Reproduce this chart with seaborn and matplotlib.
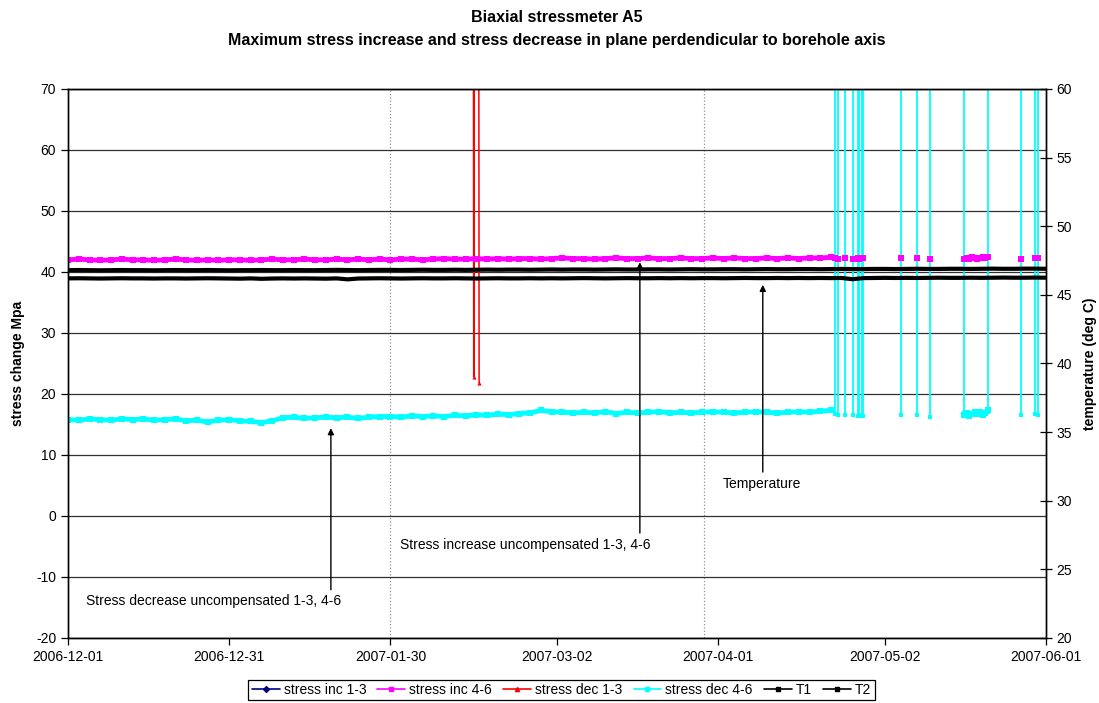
import matplotlib
matplotlib.use('Agg')
import matplotlib.pyplot as plt
import matplotlib.dates as mdates
from matplotlib.lines import Line2D
import seaborn as sns
import pandas as pd

# continuous record, one reading every second day from 2006-12-01 (MPa)
inc_46 = [42.0, 42.1, 42.0, 41.9, 42.0, 42.1, 42.0, 42.0, 41.9, 42.0,
          42.1, 42.0, 41.9, 42.0, 41.9, 42.0, 42.0, 41.9, 42.0, 42.1,
          42.0, 42.0, 42.1, 42.0, 42.0, 42.1, 42.0, 42.1, 42.0, 42.1,
          42.0, 42.1, 42.1, 42.0, 42.1, 42.2, 42.1, 42.1, 42.2, 42.1,
          42.2, 42.1, 42.2, 42.2, 42.1, 42.2, 42.3, 42.2, 42.2, 42.1,
          42.2, 42.3, 42.2, 42.2, 42.3, 42.2, 42.2, 42.3, 42.2, 42.2,
          42.3, 42.2, 42.3, 42.2, 42.2, 42.3, 42.2, 42.3, 42.2, 42.3,
          42.3, 42.4]
dec_46 = [15.8, 15.7, 15.9, 15.8, 15.7, 15.9, 15.8, 15.9, 15.7, 15.8,
          15.9, 15.6, 15.7, 15.4, 15.7, 15.8, 15.6, 15.5, 15.3, 15.6,
          16.1, 16.2, 16.0, 16.1, 16.2, 16.1, 16.2, 16.0, 16.2, 16.3,
          16.3, 16.2, 16.4, 16.3, 16.4, 16.3, 16.5, 16.4, 16.6, 16.5,
          16.7, 16.6, 16.8, 16.9, 17.3, 17.1, 17.0, 16.9, 17.0, 16.9,
          17.1, 16.8, 17.0, 16.9, 17.0, 17.1, 16.9, 17.0, 16.9, 17.0,
          17.1, 17.0, 16.9, 17.0, 17.1, 17.0, 16.9, 17.0, 17.1, 17.0,
          17.2, 17.3]

# temperatures (deg C), every second day 2006-12-01 .. 2007-06-01
t1 = [46.80, 46.81, 46.80, 46.79, 46.80, 46.81, 46.80, 46.80, 46.79, 46.80,
      46.81, 46.80, 46.80, 46.81, 46.80, 46.79, 46.80, 46.80, 46.81, 46.80,
      46.80, 46.81, 46.80, 46.80, 46.81, 46.82, 46.81, 46.80, 46.81, 46.82,
      46.82, 46.81, 46.82, 46.83, 46.82, 46.82, 46.83, 46.82, 46.83, 46.84,
      46.83, 46.84, 46.84, 46.83, 46.84, 46.85, 46.84, 46.85, 46.85, 46.84,
      46.85, 46.86, 46.85, 46.85, 46.86, 46.86, 46.85, 46.86, 46.87, 46.86,
      46.86, 46.87, 46.87, 46.86, 46.87, 46.88, 46.87, 46.87, 46.88, 46.88,
      46.87, 46.88, 46.89, 46.88, 46.88, 46.89, 46.89, 46.88, 46.89, 46.90,
      46.89, 46.89, 46.90, 46.90, 46.89, 46.90, 46.91, 46.90, 46.90, 46.91,
      46.91, 46.90]
t2 = [46.20, 46.21, 46.20, 46.19, 46.20, 46.21, 46.20, 46.20, 46.19, 46.20,
      46.20, 46.19, 46.20, 46.21, 46.20, 46.19, 46.18, 46.20, 46.17, 46.19,
      46.20, 46.19, 46.20, 46.19, 46.18, 46.20, 46.13, 46.19, 46.20, 46.21,
      46.20, 46.19, 46.20, 46.21, 46.20, 46.20, 46.21, 46.20, 46.19, 46.20,
      46.21, 46.20, 46.20, 46.21, 46.20, 46.21, 46.20, 46.21, 46.22, 46.21,
      46.20, 46.21, 46.22, 46.21, 46.21, 46.22, 46.21, 46.22, 46.21, 46.22,
      46.22, 46.21, 46.22, 46.23, 46.22, 46.22, 46.23, 46.22, 46.23, 46.22,
      46.23, 46.22, 46.23, 46.14, 46.22, 46.23, 46.24, 46.23, 46.24, 46.23,
      46.24, 46.25, 46.24, 46.24, 46.25, 46.24, 46.25, 46.26, 46.25, 46.25,
      46.26, 46.25]

# sparse readings after 2007-04-22, each followed by an off-scale value
spike_times = ['2007-04-22 19:00', '2007-04-23 07:00', '2007-04-24 12:00',
               '2007-04-26 02:00', '2007-04-26 22:00', '2007-04-27 05:00',
               '2007-04-27 17:00', '2007-04-28 00:00', '2007-05-05 02:00',
               '2007-05-07 22:00', '2007-05-10 12:00', '2007-05-16 17:00',
               '2007-05-21 05:00', '2007-05-27 07:00', '2007-05-30 00:00',
               '2007-05-30 10:00']
dec_46_spike = [16.8, 16.6, 16.5, 16.5, 16.4, 16.5, 16.4, 16.4, 16.6, 16.5,
                16.2, 16.9, 17.1, 16.6, 16.7, 16.6]
inc_46_spike = [42.3, 42.2, 42.3, 42.2, 42.3, 42.2, 42.3, 42.3, 42.3, 42.3,
                42.1, 42.2, 42.4, 42.2, 42.3, 42.3]
off_scale = 150

# short good stretch in mid May
seg_start, seg_end = '2007-05-16 17:00', '2007-05-21 05:00'
dec_46_seg = [16.6, 16.9, 16.4, 16.8, 17.1, 16.7, 17.0, 16.5, 16.9, 17.3]
inc_46_seg = [42.2, 42.3, 42.2, 42.4, 42.3, 42.2, 42.3, 42.4, 42.3, 42.4]

# stress dec 1-3 is off-scale except two readings in February
dec_13_times = ['2007-02-14 09:00', '2007-02-14 12:00', '2007-02-14 15:00',
                '2007-02-15 09:00', '2007-02-15 12:00']
dec_13_vals = [off_scale, 22.8, off_scale, off_scale, 21.8]
dec_13_unit = [0, 0, 0, 1, 1]

tick_dates = ['2006-12-01', '2006-12-31', '2007-01-30', '2007-03-02',
              '2007-04-01', '2007-05-02', '2007-06-01']

sns.set_style('white')
plt.rcParams['font.family'] = ['Liberation Sans', 'DejaVu Sans']
plt.rcParams['axes.unicode_minus'] = False
plt.rcParams['text.color'] = 'black'
plt.rcParams['axes.labelcolor'] = 'black'
plt.rcParams['xtick.color'] = 'black'
plt.rcParams['ytick.color'] = 'black'

main_dates = pd.date_range('2006-12-01', periods=len(inc_46), freq='2D')
t_dates = pd.date_range('2006-12-01', periods=len(t1), freq='2D')
seg_dates = pd.date_range(seg_start, seg_end, periods=len(dec_46_seg))
sp = pd.to_datetime(spike_times)

spikes = pd.DataFrame({
    'time': list(sp) + list(sp),
    'val': dec_46_spike + [off_scale] * len(sp),
    'unit': list(range(len(sp))) * 2,
})
red = pd.DataFrame({'time': pd.to_datetime(dec_13_times), 'val': dec_13_vals,
                    'unit': dec_13_unit})

fig = plt.figure(figsize=(10.99, 7.03), dpi=100)
ax = fig.add_axes([0.0619, 0.0925, 0.8899, 0.7809])
ax2 = ax.twinx()

CYAN, MAG, RED = '#00ffff', '#ff00ff', '#ff0000'

# stress decrease 4-6
sns.lineplot(data=spikes, x='time', y='val', units='unit', estimator=None,
             sort=False, color=CYAN, lw=1.3, marker='s', markersize=3,
             markeredgewidth=0, ax=ax)
sns.lineplot(x=main_dates, y=dec_46, color=CYAN, lw=3.5, marker='s',
             markersize=4, markeredgewidth=0, ax=ax)
sns.lineplot(x=seg_dates, y=dec_46_seg, color=CYAN, lw=3.5, marker='s',
             markersize=4, markeredgewidth=0, ax=ax)

# stress dec 1-3
sns.lineplot(data=red, x='time', y='val', units='unit', estimator=None,
             sort=False, color=RED, lw=1.1, marker='^', markersize=3,
             markeredgewidth=0, ax=ax)

# stress increase 4-6
sns.lineplot(x=main_dates, y=inc_46, color=MAG, lw=3.5, marker='s',
             markersize=4, markeredgewidth=0, ax=ax)
sns.lineplot(x=seg_dates, y=inc_46_seg, color=MAG, lw=3.5, marker='s',
             markersize=4, markeredgewidth=0, ax=ax)
sns.scatterplot(x=sp, y=inc_46_spike, color=MAG, marker='s', s=22,
                linewidth=0, zorder=4, ax=ax)

# temperatures
sns.lineplot(x=t_dates, y=t1, color='black', lw=3, ax=ax2)
sns.lineplot(x=t_dates, y=t2, color='black', lw=3, ax=ax2)

ax.set_ylim(-20, 70)
ax.set_yticks(range(-20, 71, 10))
ax2.set_ylim(20, 60)
ax2.set_yticks(range(20, 61, 5))
ax.set_xlim(pd.Timestamp('2006-12-01'), pd.Timestamp('2007-06-01'))
ax.set_xticks(pd.to_datetime(tick_dates))
ax.xaxis.set_major_formatter(mdates.DateFormatter('%Y-%m-%d'))

ax.yaxis.grid(True, color='#303030', lw=0.9)
ax.xaxis.grid(False)
for d in ['2007-01-30', '2007-03-29 07:00']:
    ax.axvline(pd.Timestamp(d), color='#909090', ls=':', lw=0.9, zorder=0)

for a in (ax, ax2):
    for s in a.spines.values():
        s.set_color('black')
        s.set_linewidth(1.0)
ax.tick_params(axis='both', direction='out', length=5, width=0.9,
               labelsize=10, color='black', left=True, bottom=True)
ax2.tick_params(axis='y', direction='inout', length=8, width=0.9,
                labelsize=10, right=True)
ax.set_xlabel('')
ax.set_ylabel('stress change Mpa', fontsize=10, fontweight='bold', labelpad=8)
ax2.set_ylabel('temperature (deg C)', fontsize=10, fontweight='bold',
               labelpad=8)

# annotations
def arrow(x, y0, y1):
    xn = mdates.date2num(pd.Timestamp(x))
    ax.annotate('', xy=(xn, y1), xytext=(xn, y0),
                arrowprops=dict(arrowstyle='-|>', color='black', lw=1,
                                mutation_scale=9, shrinkA=0, shrinkB=0))

arrow('2007-01-18 22:00', -12.1, 14.4)
arrow('2007-03-17 10:00', -2.8, 41.6)
arrow('2007-04-09 07:00', 7.2, 37.9)
ax.text(pd.Timestamp('2006-12-04 08:00'), -13.9,
        'Stress decrease uncompensated 1-3, 4-6', fontsize=10, va='center')
ax.text(pd.Timestamp('2007-01-31 19:00'), -4.75,
        'Stress increase uncompensated 1-3, 4-6', fontsize=10, va='center')
ax.text(pd.Timestamp('2007-04-09 02:00'), 5.25, 'Temperature', fontsize=10,
        va='center', ha='center')

fig.text(0.507, 0.975, 'Biaxial stressmeter A5', ha='center', va='center',
         fontsize=11.5, fontweight='bold')
fig.text(0.507, 0.943, 'Maximum stress increase and stress decrease in plane '
         'perdendicular to borehole axis', ha='center', va='center',
         fontsize=11.5, fontweight='bold')

handles = [
    Line2D([], [], color='navy', marker='D', ms=3, lw=1.2, label='stress inc 1-3'),
    Line2D([], [], color=MAG, marker='s', ms=3, lw=1.2, label='stress inc 4-6'),
    Line2D([], [], color=RED, marker='^', ms=3, lw=1.2, label='stress dec 1-3'),
    Line2D([], [], color=CYAN, marker='s', ms=3, lw=1.2, label='stress dec 4-6'),
    Line2D([], [], color='black', marker='s', ms=3, lw=1.2, label='T1'),
    Line2D([], [], color='black', marker='s', ms=3, lw=1.2, label='T2'),
]
leg = fig.legend(handles=handles, loc='center', bbox_to_anchor=(0.511, 0.0185),
                 ncol=6, fontsize=10, frameon=True, fancybox=False,
                 edgecolor='black', framealpha=1, borderpad=0.25,
                 columnspacing=0.8, handlelength=2.0, handletextpad=0.3)
leg.get_frame().set_linewidth(0.9)

fig.savefig('out.png', dpi=100)
